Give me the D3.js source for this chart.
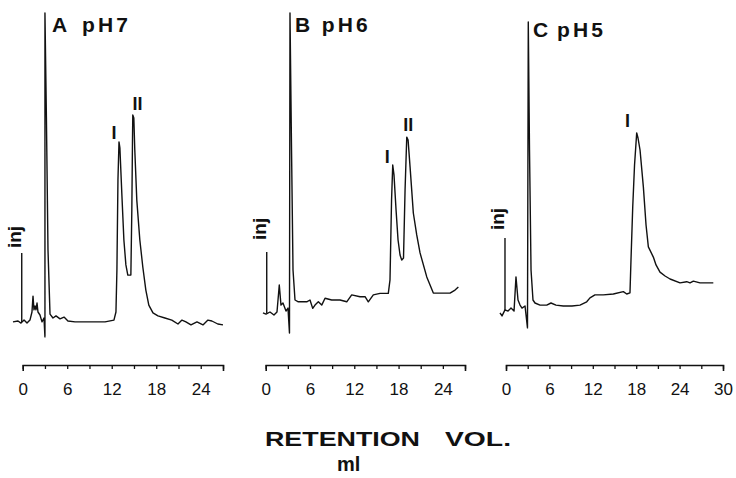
<!DOCTYPE html>
<html>
<head>
<meta charset="utf-8">
<script src="https://cdn.jsdelivr.net/npm/d3@7"></script>
<style>
  body { margin: 0; background: #fff; }
  svg { display: block; }
</style>
</head>
<body>
<svg id="chart"></svg>
<script>
// panel labels and axis settings
const panelLetters = ["A", "B", "C"];
const phLabels = ["pH7", "pH6", "pH5"];
const axisMax = [27, 27, 30];
const tickLabels = [[0, 6, 12, 18, 24], [0, 6, 12, 18, 24], [0, 6, 12, 18, 24, 30]];

// retention volume (ml) and detector signal
const volA = [-1.31, -0.63, -0.23, 0.18, 0.58, 0.98, 1.25, 1.39, 1.52, 1.66, 1.79, 1.93, 2.06, 2.33, 2.6, 2.87, 3.0, 3.0, 3.2, 3.41, 3.68, 4.08, 4.49, 5.03, 5.57, 6.1, 7.05, 9.07, 11.1, 12.3, 12.57, 12.7, 12.84, 12.98, 13.1, 13.37, 13.64, 13.91, 14.17, 14.58, 14.71, 14.8, 14.84, 14.98, 15.11, 15.38, 15.79, 16.19, 16.6, 17.0, 17.56, 18.23, 19.17, 20.1, 20.93, 21.47, 22.0, 22.68, 23.49, 24.3, 24.97, 25.5, 26.3, 27.0];
const sigA = [2.7, 3.0, 2.3, 3.3, 2.3, 3.3, 6.0, 11.3, 6.7, 8.0, 6.7, 9.0, 6.0, 5.0, 2.7, 4.0, -2.3, 105.7, 70, 26.7, 5.3, 4.0, 4.7, 3.7, 4.3, 3.0, 2.7, 2.7, 2.7, 3.3, 6.0, 20, 50, 62.7, 60.7, 45, 30, 21.7, 18.3, 18.3, 40, 63.3, 71.7, 70.7, 60, 43.3, 30, 21, 13.3, 8.3, 5.7, 4.7, 4.0, 3.3, 2.0, 3.3, 2.7, 1.7, 2.7, 1.7, 3.3, 3.0, 2.0, 1.7];

const volB = [-0.37, 0.04, 0.58, 1.12, 1.53, 1.84, 2.07, 2.34, 2.75, 3.02, 3.22, 3.29, 3.5, 3.7, 3.97, 4.42, 5.56, 6.0, 6.37, 6.68, 7.13, 7.59, 8.04, 8.94, 10.07, 10.98, 11.65, 12.78, 13.46, 13.9, 14.58, 15.49, 16.61, 16.84, 17.05, 17.21, 17.38, 17.66, 17.93, 18.2, 18.43, 18.67, 18.88, 19.11, 19.29, 19.56, 20.0, 20.46, 20.91, 21.82, 22.71, 23.62, 24.97, 25.65, 26.1];
const sigB = [5.7, 5.3, 6.0, 5.0, 6.0, 15.0, 8.3, 9.0, 6.3, 7.3, -1.0, 105.7, 60, 20, 10, 9.4, 9.4, 10, 7.2, 8.3, 9.4, 8.3, 10.6, 10, 10, 9.4, 11.7, 11.1, 11.1, 9.4, 11.7, 12.2, 12.2, 16.7, 43.3, 55, 51.7, 40, 30, 25, 23.3, 24, 46.7, 64.3, 63.3, 54.3, 39, 31.7, 25.7, 17.7, 12.3, 12.3, 12.3, 13.3, 14.3];

const volC = [-0.83, -0.55, -0.14, 0.28, 0.69, 1.11, 1.38, 1.66, 1.94, 2.21, 2.63, 2.97, 3.08, 3.25, 3.46, 3.73, 4.01, 4.7, 5.63, 6.22, 6.91, 7.92, 9.12, 10.23, 11.16, 11.61, 12.3, 13.45, 14.84, 16.22, 16.69, 17.14, 17.28, 17.52, 17.77, 18.07, 18.25, 18.53, 18.99, 19.36, 19.68, 20.37, 20.74, 21.29, 21.99, 22.68, 24.06, 24.98, 25.44, 25.9, 26.82, 28.66];
const sigC = [5.7, 4.7, 6.7, 6.3, 7.3, 6.3, 17.7, 10, 8.3, 7.3, 8.0, 0.7, 102.7, 60, 20, 10, 9, 8.3, 8.3, 9, 8.3, 8, 8, 8.3, 9.4, 10.7, 11.7, 11.7, 12, 12.8, 12, 12.4, 23.3, 41, 55, 65.7, 64, 60, 47.7, 35, 27.7, 24.3, 21.7, 19.3, 18, 17, 15.7, 16.1, 15.7, 16.3, 15.7, 15.7];

// injection marks
const injVol = [-0.13, 0.14, -0.14];
const injTop = [25.7, 26, 30.7];
const injBase = [2.7, 5.7, 6.7];
const injLabelSig = [27.3, 30, 33.3];

// peak labels
const peakNames = [["I", "II"], ["I", "II"], ["I"]];
const peakVol = [[12.3, 15.47], [16.48, 19.3], [16.8]];
const peakSig = [[63.7, 73.3], [55.6, 66.4], [67.6]];

const vols = [volA, volB, volC];
const sigs = [sigA, sigB, sigC];

const width = 736, height = 478;
const font = "'Liberation Sans', Arial, Helvetica, sans-serif";
const axisY = 365;
const xRanges = [[22.7, 223], [265.7, 465], [506, 723]];
const titleVol = [3.95, 3.97, 3.73];
const phVol = [8.0, 7.6, 7.05];
const titleSig = [99.3, 99.3, 97.7];

const svg = d3.select("#chart")
    .attr("width", width)
    .attr("height", height)
    .style("font-family", font);

const y = d3.scaleLinear().domain([0, 100]).range([330, 30]);

for (let p = 0; p < 3; p++) {
    const x = d3.scaleLinear().domain([0, axisMax[p]]).range(xRanges[p]);
    const g = svg.append("g");

    // trace
    const line = d3.line()
        .x((d, i) => x(vols[p][i]))
        .y(d => y(d));
    g.append("path")
        .datum(sigs[p])
        .attr("d", line)
        .attr("fill", "none")
        .attr("stroke", "#111")
        .attr("stroke-width", 1.4)
        .attr("stroke-linejoin", "round");

    // injection mark
    g.append("line")
        .attr("x1", x(injVol[p])).attr("x2", x(injVol[p]))
        .attr("y1", y(injBase[p])).attr("y2", y(injTop[p]))
        .attr("stroke", "#111")
        .attr("stroke-width", 1.4);
    g.append("text")
        .attr("transform", `translate(${x(injVol[p]) - 1},${y(injLabelSig[p])}) rotate(-90)`)
        .attr("font-size", 19)
        .attr("font-weight", "bold")
        .attr("fill", "#111")
        .text("inj");

    // peak labels
    peakNames[p].forEach((name, i) => {
        g.append("text")
            .attr("x", x(peakVol[p][i]))
            .attr("y", y(peakSig[p][i]))
            .attr("text-anchor", "middle")
            .attr("font-size", 18)
            .attr("font-weight", "bold")
            .attr("fill", "#111")
            .text(name);
    });

    // panel title
    g.append("text")
        .attr("x", x(titleVol[p]))
        .attr("y", y(titleSig[p]))
        .attr("font-size", 21)
        .attr("font-weight", "bold")
        .attr("fill", "#111")
        .text(panelLetters[p]);
    g.append("text")
        .attr("x", x(phVol[p]))
        .attr("y", y(titleSig[p]))
        .attr("font-size", 21)
        .attr("font-weight", "bold")
        .attr("fill", "#111")
        .attr("textLength", 46)
        .attr("lengthAdjust", "spacing")
        .text(phLabels[p]);

    // axis
    const axis = d3.axisBottom(x)
        .tickValues(d3.range(0, axisMax[p] + 1, 3))
        .tickSize(4)
        .tickSizeOuter(6)
        .tickPadding(14)
        .tickFormat(d => tickLabels[p].includes(d) ? d : "");
    const ag = g.append("g")
        .attr("transform", `translate(0,${axisY})`)
        .call(axis);
    ag.select(".domain").attr("stroke", "#111").attr("stroke-width", 1.6);
    ag.selectAll(".tick line").attr("stroke", "#111").attr("stroke-width", 1.3);
    ag.selectAll(".tick text")
        .attr("font-family", font)
        .attr("font-size", 17)
        .attr("fill", "#111");
}

// axis title
const title = svg.append("text")
    .attr("y", 446)
    .attr("font-size", 21)
    .attr("font-weight", "bold")
    .attr("fill", "#111");
title.append("tspan")
    .attr("x", 265)
    .attr("textLength", 155)
    .attr("lengthAdjust", "spacingAndGlyphs")
    .text("RETENTION");
title.append("tspan")
    .attr("x", 445)
    .attr("textLength", 66)
    .attr("lengthAdjust", "spacingAndGlyphs")
    .text("VOL.");

svg.append("text")
    .attr("x", 337)
    .attr("y", 471)
    .attr("font-size", 20)
    .attr("font-weight", "bold")
    .attr("fill", "#111")
    .text("ml");
</script>
</body>
</html>
